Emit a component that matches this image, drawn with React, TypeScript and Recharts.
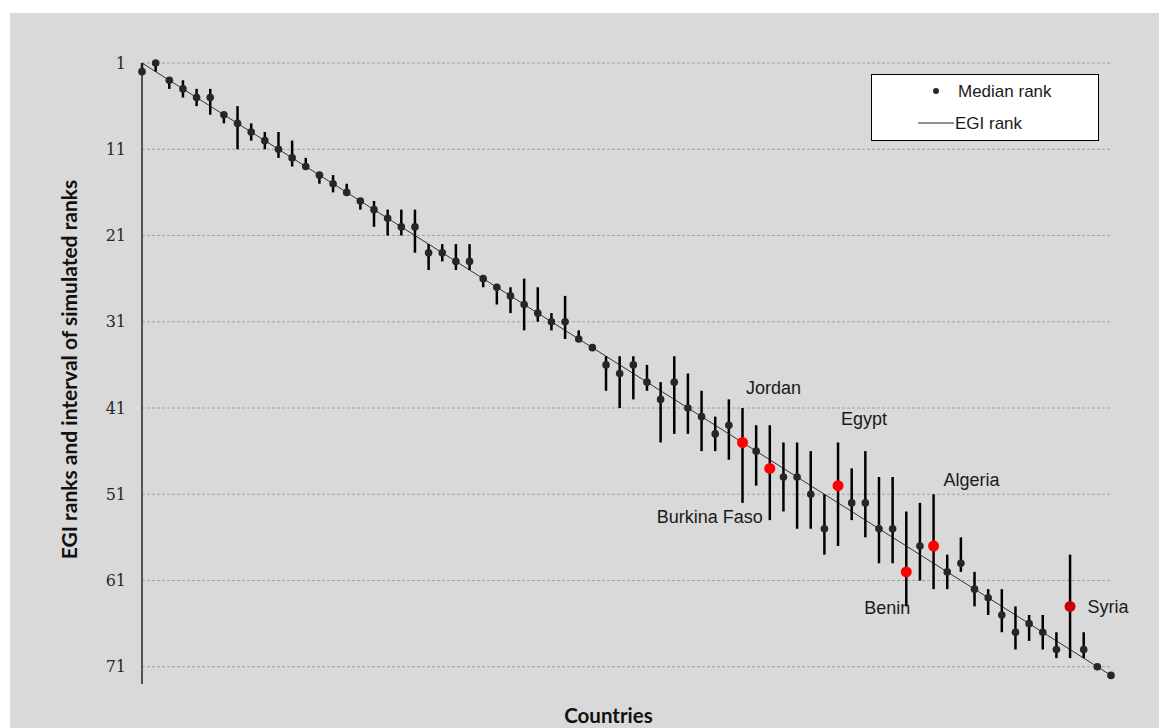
import React from 'react';
import { ComposedChart, Line, Scatter, XAxis, YAxis, CartesianGrid, ErrorBar, Legend } from 'recharts';

// ---------- data ----------
const countryIndex = [
  1, 2, 3, 4, 5, 6, 7, 8, 9, 10, 11, 12, 13, 14, 15, 16, 17, 18, 19, 20, 21, 22, 23, 24,
  25, 26, 27, 28, 29, 30, 31, 32, 33, 34, 35, 36, 37, 38, 39, 40, 41, 42, 43, 44, 45, 46, 47, 48,
  49, 50, 51, 52, 53, 54, 55, 56, 57, 58, 59, 60, 61, 62, 63, 64, 65, 66, 67, 68, 69, 70, 71, 72,
];
const egiRank = [
  1, 2, 3, 4, 5, 6, 7, 8, 9, 10, 11, 12, 13, 14, 15, 16, 17, 18, 19, 20, 21, 22, 23, 24,
  25, 26, 27, 28, 29, 30, 31, 32, 33, 34, 35, 36, 37, 38, 39, 40, 41, 42, 43, 44, 45, 46, 47, 48,
  49, 50, 51, 52, 53, 54, 55, 56, 57, 58, 59, 60, 61, 62, 63, 64, 65, 66, 67, 68, 69, 70, 71, 72,
];
const medianRank = [
  2, 1, 3, 4, 5, 5, 7, 8, 9, 10, 11, 12, 13, 14, 15, 16, 17, 18, 19, 20, 20, 23, 23, 24,
  24, 26, 27, 28, 29, 30, 31, 31, 33, 34, 36, 37, 36, 38, 40, 38, 41, 42, 44, 43, 45, 46, 48, 49,
  49, 51, 55, 50, 52, 52, 55, 55, 60, 57, 57, 60, 59, 62, 63, 65, 67, 66, 67, 69, 64, 69, 71, 72,
];
const intervalLow = [
  1, 1, 3, 3, 4, 4, 7, 6, 8, 9, 9, 10, 12, 14, 14, 15, 17, 17, 18, 18, 18, 22, 22, 22,
  22, 26, 27, 27, 26, 27, 30, 28, 32, 34, 35, 35, 35, 36, 38, 35, 37, 39, 42, 40, 41, 43, 43, 45,
  45, 46, 51, 45, 48, 46, 49, 49, 53, 52, 51, 58, 56, 60, 62, 62, 64, 65, 65, 67, 58, 67, 71, 72,
];
const intervalHigh = [
  2, 2, 4, 5, 6, 7, 8, 11, 10, 11, 12, 13, 13, 15, 16, 16, 18, 20, 21, 21, 23, 25, 24, 25,
  25, 27, 29, 30, 32, 31, 32, 33, 33, 34, 39, 41, 40, 39, 45, 44, 44, 46, 46, 47, 52, 50, 54, 53,
  55, 55, 58, 57, 54, 56, 59, 59, 64, 61, 62, 62, 60, 64, 65, 67, 69, 68, 69, 70, 70, 70, 71, 72,
];
const yTicks = [1, 11, 21, 31, 41, 51, 61, 71];
const highlightCountries = [45, 47, 52, 57, 59, 69];
const highlightNames = ['Jordan', 'Burkina Faso', 'Egypt', 'Benin', 'Algeria', 'Syria'];
const legendOrder = ['Median rank', 'EGI rank'];

// ---------- styles ----------
const labelOffsets: Record<string, { dx: number; dy: number }> = {
  Jordan: { dx: 31, dy: -55 },
  'Burkina Faso': { dx: -60, dy: 49 },
  Egypt: { dx: 26, dy: -67 },
  Benin: { dx: -19, dy: 36 },
  Algeria: { dx: 38, dy: -66 },
  Syria: { dx: 38, dy: 1 },
};
const highlightColor: Record<string, string> = { Syria: '#cc0000' };

const rows = countryIndex.map((c, i) => ({
  country: c,
  egi: egiRank[i],
  median: medianRank[i],
  err: [medianRank[i] - intervalLow[i], intervalHigh[i] - medianRank[i]],
}));
const highlightRows = highlightCountries.map((c, k) => ({
  country: c,
  median: medianRank[countryIndex.indexOf(c)],
  name: highlightNames[k],
}));

const MedianDot = (props: any) => {
  const { cx, cy } = props;
  if (cx == null || cy == null) return null;
  return <circle cx={cx} cy={cy} r={3.8} fill="#262626" />;
};

const HighlightDot = (props: any) => {
  const { cx, cy, payload } = props;
  if (cx == null || cy == null) return null;
  const off = labelOffsets[payload.name] || { dx: 0, dy: 0 };
  return (
    <g>
      <circle cx={cx} cy={cy} r={5.5} fill={highlightColor[payload.name] || '#ff0000'} />
      <text
        x={cx + off.dx}
        y={cy + off.dy}
        textAnchor="middle"
        dominantBaseline="central"
        fontFamily="'Liberation Sans', Arial, sans-serif"
        fontSize={18}
        fill="#1a1a1a"
      >
        {payload.name}
      </text>
    </g>
  );
};

const renderXLabel = (props: any) => {
  const vb = props.viewBox || {};
  return (
    <text
      x={vb.x + vb.width / 2 - 18}
      y={vb.y + 31}
      textAnchor="middle"
      dominantBaseline="central"
      fontFamily="Lato, 'Open Sans', sans-serif"
      fontWeight="bold"
      fontSize={20.5}
      fill="#111"
    >
      Countries
    </text>
  );
};

const renderYLabel = (props: any) => {
  const vb = props.viewBox || {};
  const x = vb.x + 58;
  const y = vb.y + vb.height / 2 - 4;
  return (
    <text
      x={x}
      y={y}
      transform={`rotate(-90, ${x}, ${y})`}
      textAnchor="middle"
      dominantBaseline="central"
      fontFamily="Lato, 'Open Sans', sans-serif"
      fontWeight="bold"
      fontSize={21}
      fill="#111"
    >
      EGI ranks and interval of simulated ranks
    </text>
  );
};

const renderLegend = (props: any) => {
  const payload = props.payload || [];
  const items = legendOrder
    .map((n) => payload.find((p: any) => p.value === n))
    .filter(Boolean);
  return (
    <svg width={228} height={67} style={{ display: 'block' }}>
      <rect x={0.5} y={0.5} width={227} height={66} fill="#ffffff" stroke="#000000" strokeWidth={1} />
      {items.map((it: any, i: number) => {
        const cy = 17 + i * 32;
        const isLine = it.type === 'line';
        return (
          <g key={it.value}>
            {isLine ? (
              <line x1={47} x2={83} y1={cy} y2={cy} stroke="#262626" strokeWidth={1} />
            ) : (
              <circle cx={65} cy={cy} r={3} fill="#262626" />
            )}
            <text
              x={isLine ? 84 : 87}
              y={cy}
              dominantBaseline="central"
              fontFamily="'Liberation Sans', Arial, sans-serif"
              fontSize={17}
              fill="#1a1a1a"
            >
              {it.value}
            </text>
          </g>
        );
      })}
    </svg>
  );
};

export default function App() {
  return (
    <div
      style={{
        position: 'absolute',
        left: 10,
        top: 13,
        width: 1149,
        height: 715,
        background: '#d9d9d9',
      }}
    >
      <ComposedChart
        width={1149}
        height={715}
        data={rows}
        margin={{ top: 50, right: 48, bottom: 0, left: 0 }}
      >
        <CartesianGrid
          vertical={false}
          horizontalValues={yTicks}
          syncWithTicks={false}
          stroke="#a0a0a0"
          strokeDasharray="3 2"
        />
        <XAxis
          dataKey="country"
          type="number"
          domain={[1, 72]}
          height={44}
          axisLine={false}
          tickLine={false}
          tick={false}
          label={renderXLabel}
        />
        <YAxis
          type="number"
          domain={[1, 73]}
          reversed
          ticks={yTicks}
          interval={0}
          width={132}
          axisLine={{ stroke: '#262626', strokeWidth: 1.5 }}
          tickLine={false}
          tickMargin={10}
          tick={{ fontFamily: "'DejaVu Serif', serif", fontSize: 16, fill: '#262626' }}
          label={renderYLabel}
        />
        <Legend
          layout="vertical"
          align="center"
          verticalAlign="middle"
          content={renderLegend}
          wrapperStyle={{ left: 861, top: 61, width: 228, height: 67 }}
        />
        <Line
          type="linear"
          dataKey="egi"
          name="EGI rank"
          stroke="#333333"
          strokeWidth={1}
          dot={false}
          activeDot={false}
          isAnimationActive={false}
        />
        <Scatter dataKey="median" name="Median rank" shape={MedianDot} isAnimationActive={false}>
          <ErrorBar dataKey="err" direction="y" width={0} stroke="#000000" strokeWidth={2.5} />
        </Scatter>
        <Scatter
          data={highlightRows}
          dataKey="median"
          name="Highlighted"
          legendType="none"
          shape={HighlightDot}
          isAnimationActive={false}
        />
      </ComposedChart>
    </div>
  );
}
